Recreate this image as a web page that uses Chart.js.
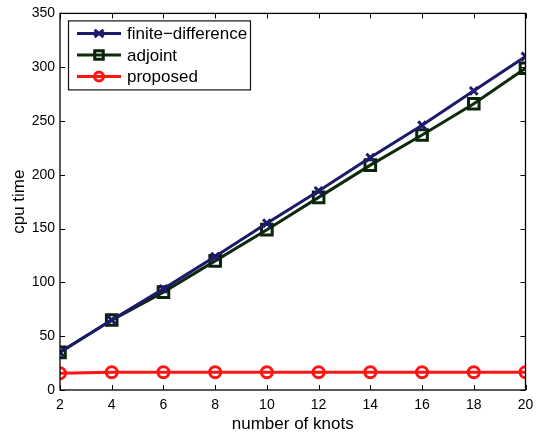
<!DOCTYPE html>
<html>
<head>
<meta charset="utf-8">
<script src="https://cdn.jsdelivr.net/npm/chart.js@4/dist/chart.umd.min.js"></script>
<style>
html,body{margin:0;padding:0;background:#fff;overflow:hidden;}
#wrap{width:536px;height:434px;position:relative;overflow:hidden;}
#c{display:block;}
</style>
</head>
<body>
<div id="wrap"><canvas id="c" width="536" height="434"></canvas></div>
<script>
const knots = [2, 4, 6, 8, 10, 12, 14, 16, 18, 20];
const finiteDifference = [35, 65, 94, 124, 155, 185, 216, 246, 278, 310];
const adjoint = [35, 65, 91, 120, 149, 179, 209, 237, 266, 299];
const proposed = [15.5, 16.5, 16.5, 16.5, 16.5, 16.5, 16.5, 16.5, 16.5, 16.5];
const xTicks = [2, 4, 6, 8, 10, 12, 14, 16, 18, 20];
const yTicks = [0, 50, 100, 150, 200, 250, 300, 350];
const seriesNames = ['finite\u2212difference', 'adjoint', 'proposed'];

const FONT = 'Liberation Sans, Arial, Helvetica, sans-serif';
const TARGET_RIGHT = 531;
const pts = v => knots.map((k, i) => ({x: k, y: v[i]}));

const insideTicks = {
  id: 'insideTicks',
  afterDatasetsDraw(chart) {
    const {ctx, chartArea: a, scales: {x, y}} = chart;
    ctx.save();
    ctx.strokeStyle = '#000';
    ctx.lineWidth = 1;
    ctx.beginPath();
    xTicks.forEach(t => {
      const px = Math.round(x.getPixelForValue(t)) + 0.5;
      ctx.moveTo(px, a.bottom); ctx.lineTo(px, a.bottom - 5);
      ctx.moveTo(px, a.top); ctx.lineTo(px, a.top + 5);
    });
    yTicks.forEach(t => {
      const py = Math.round(y.getPixelForValue(t)) + 0.5;
      ctx.moveTo(a.left, py); ctx.lineTo(a.left + 5, py);
      ctx.moveTo(a.right, py); ctx.lineTo(a.right - 5, py);
    });
    ctx.stroke();
    ctx.lineWidth = 1.3;
    ctx.strokeRect(a.left, a.top, a.right - a.left, a.bottom - a.top);
    ctx.restore();
  }
};

const xLabels = {
  id: 'xLabels',
  afterDraw(chart) {
    const {ctx, chartArea: a, scales: {x}} = chart;
    ctx.save();
    ctx.fillStyle = '#000';
    ctx.font = '14px ' + FONT;
    ctx.textAlign = 'center';
    ctx.textBaseline = 'top';
    xTicks.forEach(t => ctx.fillText(String(t), x.getPixelForValue(t), a.bottom + 8));
    ctx.restore();
  }
};

const legendRadius = {crossRot: 4.5, rect: 6, circle: 4.5};

const boxLegend = {
  id: 'boxLegend',
  afterDraw(chart) {
    const {ctx, chartArea: a} = chart;
    const bx = a.left + 8, by = a.top + 7, bw = 182, bh = 69;
    ctx.save();
    ctx.fillStyle = '#fff';
    ctx.fillRect(bx, by, bw, bh);
    ctx.strokeStyle = '#111';
    ctx.lineWidth = 1.2;
    ctx.strokeRect(bx + 0.5, by + 0.5, bw, bh);
    chart.data.datasets.forEach((ds, i) => {
      const cy = by + 13 + i * 21.5;
      ctx.strokeStyle = ds.borderColor;
      ctx.lineWidth = ds.borderWidth;
      ctx.beginPath();
      ctx.moveTo(bx + 9, cy); ctx.lineTo(bx + 53, cy);
      ctx.stroke();
      ctx.strokeStyle = ds.pointBorderColor;
      ctx.lineWidth = ds.pointBorderWidth;
      ctx.beginPath();
      const r = legendRadius[ds.pointStyle];
      const mx = bx + 31;
      if (ds.pointStyle === 'crossRot') {
        ctx.moveTo(mx - r, cy - r * 0.8); ctx.lineTo(mx + r, cy + r * 0.8);
        ctx.moveTo(mx + r, cy - r * 0.8); ctx.lineTo(mx - r, cy + r * 0.8);
      } else if (ds.pointStyle === 'rect') {
        const h = r * 0.71;
        ctx.rect(mx - h, cy - h, 2 * h, 2 * h);
      } else {
        ctx.arc(mx, cy, r, 0, Math.PI * 2);
      }
      ctx.stroke();
      ctx.fillStyle = '#000';
      ctx.font = '17px ' + FONT;
      ctx.textBaseline = 'middle';
      ctx.textAlign = 'left';
      ctx.fillText(ds.label, bx + 59, cy + 1);
    });
    ctx.restore();
  }
};

const chart = new Chart(document.getElementById('c'), {
  type: 'line',
  data: {
    datasets: [
      {label: seriesNames[0], data: pts(finiteDifference), borderColor: '#1b1a6b', backgroundColor: 'rgba(0,0,0,0)',
       borderWidth: 3, pointStyle: 'crossRot', pointRadius: 5.5, pointBorderWidth: 3, pointBorderColor: '#1b1a6b', pointBackgroundColor: 'rgba(0,0,0,0)'},
      {label: seriesNames[1], data: pts(adjoint), borderColor: '#0d2a0d', backgroundColor: 'rgba(0,0,0,0)',
       borderWidth: 3, pointStyle: 'rect', pointRadius: 7.5, pointBorderWidth: 3, pointBorderColor: '#0a230a', pointBackgroundColor: 'rgba(0,0,0,0)'},
      {label: seriesNames[2], data: pts(proposed), borderColor: '#ff1414', backgroundColor: 'rgba(0,0,0,0)',
       borderWidth: 3, pointStyle: 'circle', pointRadius: 5.5, pointBorderWidth: 3, pointBorderColor: '#ff1414', pointBackgroundColor: 'rgba(0,0,0,0)'}
    ]
  },
  options: {
    responsive: false,
    animation: false,
    devicePixelRatio: 1,
    layout: {padding: {left: 0, right: 5, top: 5, bottom: 0}},
    plugins: {legend: {display: false}, tooltip: {enabled: false}},
    elements: {line: {tension: 0}},
    scales: {
      x: {
        type: 'linear', min: 2, max: 20,
        afterBuildTicks: s => { s.ticks = xTicks.map(v => ({value: v})); },
        afterFit: s => { s.height = 44; s.paddingRight = 0; s.paddingLeft = 0; },
        grid: {display: false, drawTicks: false},
        border: {display: false},
        ticks: {display: false},
        title: {display: true, text: 'number of knots', color: '#000', font: {family: FONT, size: 17, lineHeight: 1}, padding: {top: 0, bottom: 1.5}}
      },
      y: {
        type: 'linear', min: 0, max: 350,
        afterBuildTicks: s => { s.ticks = yTicks.map(v => ({value: v})); },
        afterFit: s => { s.width = 60; },
        grid: {display: false, drawTicks: false},
        border: {display: false},
        ticks: {color: '#000', font: {family: FONT, size: 14}, padding: 5},
        title: {display: true, text: 'cpu time', color: '#000', font: {family: FONT, size: 17}, padding: {top: 9, bottom: 0}}
      }
    }
  },
  plugins: [insideTicks, xLabels, boxLegend]
});

// The figure is cropped at its right edge in the reference: widen the canvas
// (clipped by the 536px wrapper) until the plot's right border sits at 531px.
for (let i = 0; i < 4; i++) {
  const diff = Math.round(TARGET_RIGHT - chart.chartArea.right);
  if (diff === 0) break;
  chart.resize(chart.width + diff, 434);
}
</script>
</body>
</html>
